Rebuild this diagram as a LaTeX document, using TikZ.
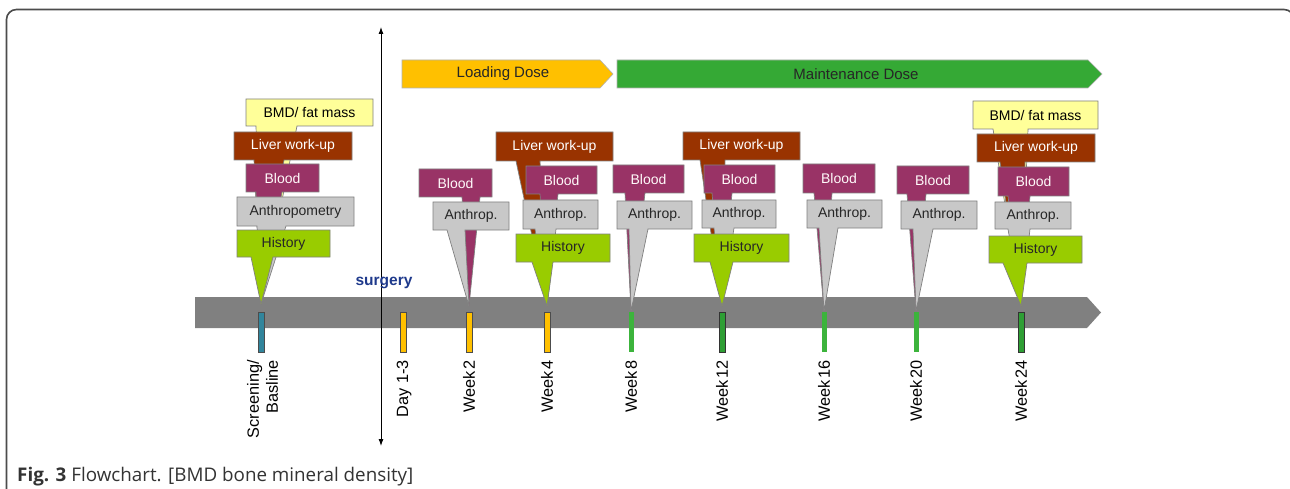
\documentclass[tikz,border=0pt]{standalone}
\usepackage{fontspec}
\setmainfont{Liberation Sans}
\newfontfamily\capfont{Open Sans}
\usetikzlibrary{calc,arrows.meta}
\definecolor{bmdc}{HTML}{FFFF99}
\definecolor{liverc}{HTML}{993300}
\definecolor{bloodc}{HTML}{993366}
\definecolor{anthc}{HTML}{C8C8C8}
\definecolor{histc}{HTML}{99CC00}
\definecolor{loadc}{HTML}{FFC000}
\definecolor{maintc}{HTML}{35A935}
\definecolor{bandc}{HTML}{808080}
\definecolor{tealc}{HTML}{31859C}
\definecolor{greenA}{HTML}{3CB43C}
\definecolor{greenB}{HTML}{2E9E34}
\definecolor{surgc}{HTML}{1F3A8C}
\definecolor{capc}{HTML}{333333}
\newcommand\callout[9]{%
  \tikzset{curbox/.style={#2}}%
  \path[cshape,#2] (#3,#4) -- (#5,#4) -- (#5,#6) -- (#8,#6) -- (#9) -- (#7,#6) -- (#3,#6) -- cycle;%
  \def\coName{#1}\def\coCx{(#3+#5)/2}\def\coCy{(#4+#6)/2}%
  \coaux}
\newcommand\coaux[1]{\node[ctext,curbox,fill=none,draw=none] (\coName) at ({\coCx},{\coCy}) {#1};}
\begin{document}
\begin{tikzpicture}[x=1pt,y=-1pt,
  cshape/.style={draw=black!50, line width=0.7pt},
  bmdbox/.style={fill=bmdc, text=black},
  liverbox/.style={fill=liverc, text=white},
  bloodbox/.style={fill=bloodc, text=white!92!pink},
  anthbox/.style={fill=anthc, text=black!85},
  histbox/.style={fill=histc, text=black!85},
  ctext/.style={font=\fontsize{14}{16}\selectfont, inner sep=0pt},
  lbl/.style={font=\fontsize{16.3}{19}\selectfont, rotate=90, anchor=east, inner sep=0pt, align=right},
  tickbar/.style={minimum width=6pt, minimum height=40pt, inner sep=0pt, line width=0.7pt},
  dosetext/.style={font=\fontsize{15}{17}\selectfont, text=black!85, inner sep=0pt},
  dosearrow/.style={draw=black!30, line width=0.6pt}]
\useasboundingbox (0,0) rectangle (1290,489);
\clip (0,0) rectangle (1290,489);
\fill[white] (0,0) rectangle (1290,489);
% frame
\draw[black!70, line width=1.6pt, rounded corners=10pt] (6.5,9.5) rectangle (1294,540);
% dose arrows
\path[dosearrow, fill=loadc] (402,60) -- (600,60) -- (613,74) -- (600,88) -- (402,88) -- cycle;
\node[dosetext] (load) at (503,74) {Loading Dose};
\path[dosearrow, fill=maintc] (617,60) -- (1088,60) -- (1102,74) -- (1088,88) -- (617,88) -- cycle;
\node[dosetext] (maint) at (856,74) {Maintenance Dose};
% timeline band
\fill[bandc] (195,297) -- (1087,297) -- (1101,312.5) -- (1087,328) -- (195,328) -- cycle;
% surgery arrow
\coordinate (surgtop) at (381,27);
\coordinate (surgbot) at (381,446);
\draw[line width=0.9pt, {Latex[length=7pt,width=5pt]}-{Latex[length=7pt,width=5pt]}] (surgtop) -- (surgbot);
\node[font=\fontsize{15.5}{17}\selectfont\bfseries, text=surgc, inner sep=0pt] (surg) at (384,283) {surgery};
% Screening stack
\callout{s5}{bmdbox}{246}{99}{373}{126}{256}{297}{261,304}{BMD/ fat mass}
\callout{s4}{liverbox}{234}{132}{352}{160}{254}{284}{261,304}{Liver work-up}
\callout{s3}{bloodbox}{246}{164}{319}{192}{256}{282}{261,304}{Blood}
\callout{s2}{anthbox}{237}{197}{354}{226}{257}{286}{261,304}{Anthropometry}
\callout{s1}{histbox}{237}{230}{330}{257}{251}{273}{261,304}{History}
% Week 2
\callout{a3}{bloodbox}{419}{169}{492}{197}{462}{480}{469,306}{Blood}
\callout{a2}{anthbox}{433}{202}{509}{230}{447}{465}{469,306}{Anthrop.}
% Week 4
\callout{b4}{liverbox}{496}{132}{613}{161}{516}{540}{547,306}{Liver work-up}
\callout{b3}{bloodbox}{526}{166}{597}{194}{540}{558}{547,306}{Blood}
\callout{b2}{anthbox}{523}{200}{598}{229}{535}{556}{547,306}{Anthrop.}
\callout{b1}{histbox}{516}{234}{610}{262}{532}{553}{547,306}{History}
% Week 8
\callout{c3}{bloodbox}{613}{165}{684}{193}{625}{645}{631,311}{Blood}
\callout{c2}{anthbox}{617}{201}{692}{229}{629}{648}{631,311}{Anthrop.}
% Week 12
\callout{d4}{liverbox}{683}{132}{800}{160}{700}{725}{722,306}{Liver work-up}
\callout{d3}{bloodbox}{704}{165}{775}{193}{712}{732}{722,306}{Blood}
\callout{d2}{anthbox}{702}{200}{776}{228}{714}{734}{722,306}{Anthrop.}
\callout{d1}{histbox}{694}{234}{789}{262}{710}{733}{722,306}{History}
% Week 16
\callout{e3}{bloodbox}{803}{164}{875}{193}{814}{832}{824,311}{Blood}
\callout{e2}{anthbox}{807}{200}{882}{228}{819}{838}{824,311}{Anthrop.}
% Week 20
\callout{f3}{bloodbox}{897}{166}{969}{194}{907}{926}{916,311}{Blood}
\callout{f2}{anthbox}{901}{201}{977}{229}{913}{933}{916,311}{Anthrop.}
% Week 24
\callout{g5}{bmdbox}{973}{101}{1098}{129}{993}{1028}{1021,306}{BMD/ fat mass}
\callout{g4}{liverbox}{977}{134}{1095}{162}{1000}{1025}{1021,306}{Liver work-up}
\callout{g3}{bloodbox}{998}{167}{1069}{196}{1008}{1030}{1021,306}{Blood}
\callout{g2}{anthbox}{995}{202}{1071}{229}{1008}{1030}{1021,306}{Anthrop.}
\callout{g1}{histbox}{989}{236}{1082}{263}{1003}{1027}{1021,306}{History}
% tick bars
\node[tickbar, fill=tealc, draw=black!70] (t0) at (261,332) {};
\node[tickbar, fill=loadc, draw=black!70] (t1) at (403,332) {};
\node[tickbar, fill=loadc, draw=black!70] (t2) at (469,332) {};
\node[tickbar, fill=loadc, draw=black!70] (t3) at (547,332) {};
\node[tickbar, fill=greenA, minimum width=5pt] (t4) at (631,332) {};
\node[tickbar, fill=greenB, draw=black!80] (t5) at (722,332) {};
\node[tickbar, fill=greenA, minimum width=5pt] (t6) at (824,332) {};
\node[tickbar, fill=greenA, minimum width=5pt] (t7) at (916,332) {};
\node[tickbar, fill=greenB, draw=black!80] (t8) at (1021,332) {};
% labels
\node[lbl] (l0) at (262.5,360) {Screening/\\Basline};
\node[lbl] (l1) at (404,360) {Day 1-3};
\node[lbl] (l2) at (469,360) {Week\kern2pt 2};
\node[lbl] (l3) at (547,360) {Week\kern2pt 4};
\node[lbl] (l4) at (631,360) {Week\kern2pt 8};
\node[lbl] (l5) at (722,360) {Week\kern2pt 12};
\node[lbl] (l6) at (824,360) {Week\kern2pt 16};
\node[lbl] (l7) at (916,360) {Week\kern2pt 20};
\node[lbl] (l8) at (1021,360) {Week\kern2pt 24};
% caption
\node[anchor=base west, inner sep=0pt, text=capc, font=\capfont\fontsize{18.8}{21}\selectfont] (cap) at (17,481) {\textbf{Fig. 3} Flowchart. [BMD bone mineral density]};
\end{tikzpicture}
\end{document}
